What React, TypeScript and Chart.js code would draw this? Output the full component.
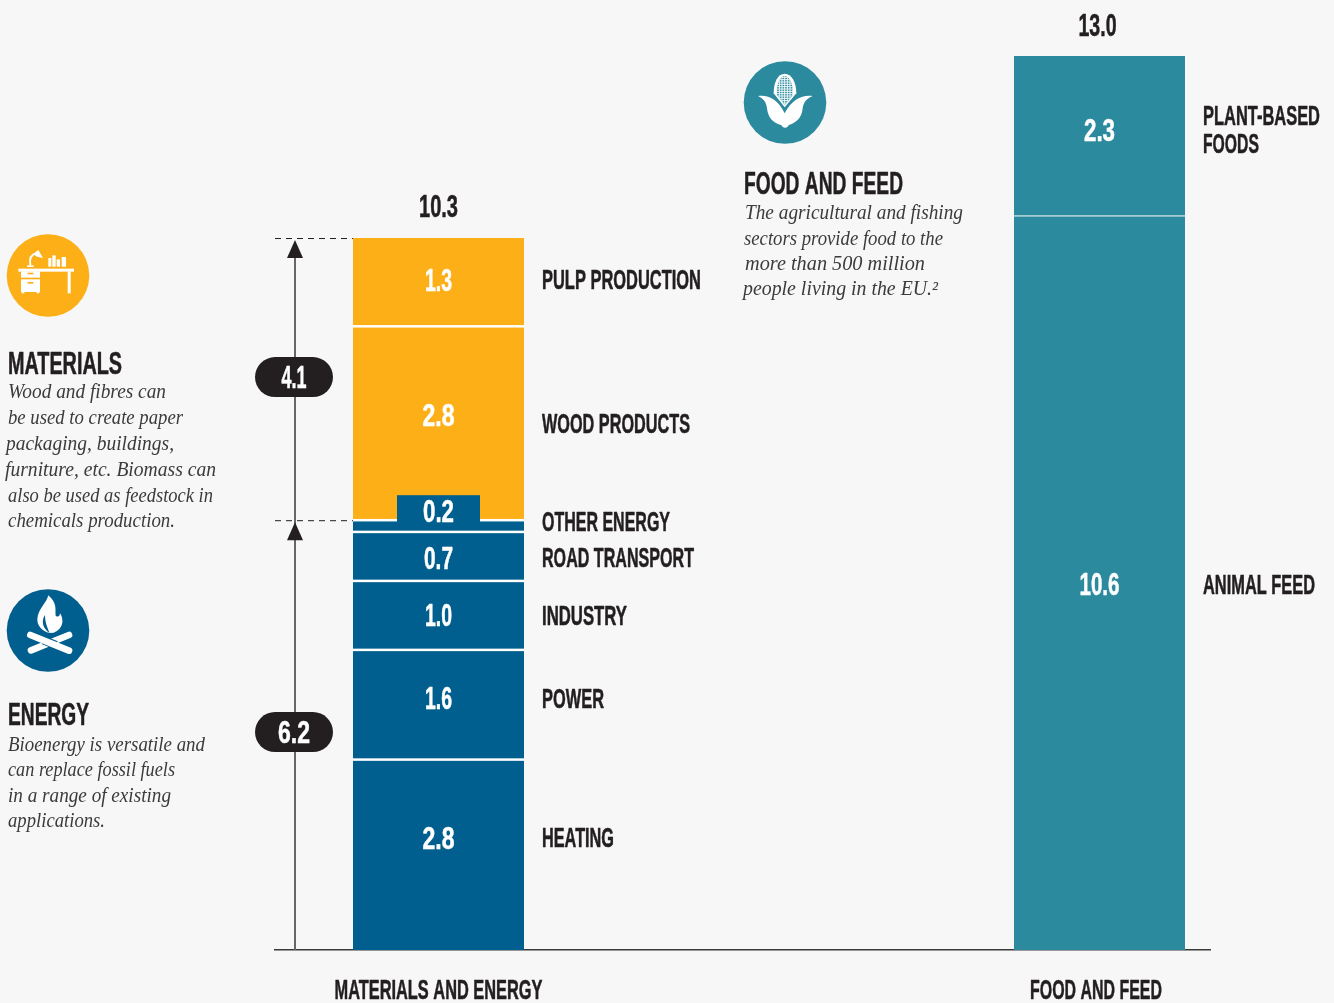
import React, { useEffect, useRef } from "react";
import { Chart, registerables } from "chart.js";

Chart.register(...registerables);

const axisCategories = ["MATERIALS AND ENERGY", "FOOD AND FEED"];
const energyCategories = ["HEATING", "POWER", "INDUSTRY", "ROAD TRANSPORT", "OTHER ENERGY"];
const energyValues = [2.76, 1.59, 1.0, 0.71, 0.17];
const materialCategories = ["WOOD PRODUCTS", "PULP PRODUCTION"];
const materialValues = [2.81, 1.28];
const foodCategories = ["ANIMAL FEED", "PLANT-BASED FOODS"];
const foodValues = [10.64, 2.32];

const materialsNote = [
  "Wood and fibres can",
  "be used to create paper",
  "packaging, buildings,",
  "furniture, etc. Biomass can",
  "also be used as feedstock in",
  "chemicals production.",
];
const energyNote = [
  "Bioenergy is versatile and",
  "can replace fossil fuels",
  "in a range of existing",
  "applications.",
];
const foodNote = [
  "The agricultural and fishing",
  "sectors provide food to the",
  "more than 500 million",
  "people living in the EU.²",
];

const ORANGE = "#fcaf17";
const BLUE = "#005f8e";
const TEAL = "#2c8a9e";
const INK = "#231f20";
const NOTE = "#3c3a3b";
const BG = "#f7f7f7";
const COND = '"Liberation Sans",sans-serif';
const SERIF = '"Liberation Serif",serif';

// Layout tables: [value label dy, value width, category label dy, category width]
const segLayout: Record<string, number[]> = {
  HEATING: [-17, 32, -17, 72],
  POWER: [-7, 27, -6, 62],
  INDUSTRY: [0, 27, 0.5, 85],
  "ROAD TRANSPORT": [1.5, 29, 1.5, 152],
  "OTHER ENERGY": [-15, 31, -4.5, 128],
  "WOOD PRODUCTS": [-8, 32, 0, 148],
  "PULP PRODUCTION": [-2, 27, -3, 159],
  "ANIMAL FEED": [1, 40, 2, 112],
  "PLANT-BASED FOODS": [-6, 31, 0, 0],
};

function fit(
  ctx: CanvasRenderingContext2D,
  text: string,
  x: number,
  y: number,
  width: number,
  font: string,
  color: string,
  align: "left" | "center" = "left",
  heavy = 0
) {
  ctx.save();
  ctx.font = font;
  ctx.fillStyle = color;
  ctx.textAlign = "left";
  ctx.textBaseline = "alphabetic";
  const w = ctx.measureText(text).width;
  const k = width / w;
  ctx.translate(align === "center" ? x - width / 2 : x, y);
  ctx.scale(k, 1);
  ctx.fillText(text, 0, 0);
  if (heavy > 0) {
    ctx.strokeStyle = color;
    ctx.lineWidth = heavy;
    ctx.lineJoin = "round";
    ctx.strokeText(text, 0, 0);
  }
  ctx.restore();
}

function iconDisc(ctx: CanvasRenderingContext2D, cx: number, cy: number, color: string, ox: number, oy: number, draw: () => void) {
  ctx.save();
  ctx.fillStyle = color;
  ctx.beginPath();
  ctx.arc(cx, cy, 41.3, 0, Math.PI * 2);
  ctx.fill();
  ctx.translate(ox, oy);
  ctx.scale(1 / 3, 1 / 3);
  draw();
  ctx.restore();
}

function drawDesk(ctx: CanvasRenderingContext2D) {
  ctx.fillStyle = "#fff";
  ctx.fillRect(40, 110, 167, 9);
  ctx.fillRect(48, 118, 57, 62);
  ctx.fillRect(50, 178, 8, 6);
  ctx.fillRect(95, 178, 8, 6);
  ctx.fillRect(188, 118, 9, 66);
  ctx.fillStyle = ORANGE;
  ctx.fillRect(48, 137, 57, 5);
  ctx.fillRect(68, 122, 17, 5);
  ctx.fillRect(68, 150, 17, 5);
  ctx.fillStyle = "#fff";
  ctx.fillRect(66, 100, 20, 5);
  ctx.strokeStyle = "#fff";
  ctx.lineWidth = 6;
  ctx.beginPath();
  ctx.moveTo(76, 100);
  ctx.quadraticCurveTo(70, 70, 94, 64);
  ctx.stroke();
  ctx.beginPath();
  ctx.moveTo(84, 66);
  ctx.lineTo(100, 54);
  ctx.lineTo(114, 78);
  ctx.lineTo(96, 74);
  ctx.closePath();
  ctx.fill();
  ctx.fillRect(130, 78, 9, 26);
  ctx.fillRect(142, 70, 10, 34);
  ctx.fillRect(155, 82, 10, 22);
  ctx.fillRect(170, 75, 13, 29);
}

function drawFire(ctx: CanvasRenderingContext2D) {
  ctx.fillStyle = "#fff";
  ctx.beginPath();
  ctx.moveTo(130, 25);
  ctx.bezierCurveTo(125, 48, 100, 65, 97, 95);
  ctx.bezierCurveTo(96, 115, 110, 130, 132, 138);
  ctx.lineTo(146, 137);
  ctx.bezierCurveTo(175, 125, 178, 100, 165, 78);
  ctx.bezierCurveTo(165, 88, 158, 92, 152, 86);
  ctx.bezierCurveTo(150, 68, 158, 50, 130, 25);
  ctx.fill();
  ctx.fillStyle = BLUE;
  ctx.beginPath();
  ctx.moveTo(120, 84);
  ctx.bezierCurveTo(106, 105, 116, 126, 134, 139);
  ctx.bezierCurveTo(126, 118, 120, 105, 120, 84);
  ctx.fill();
  ctx.strokeStyle = "#fff";
  ctx.lineCap = "round";
  ctx.lineWidth = 20;
  ctx.beginPath();
  ctx.moveTo(78, 190);
  ctx.lineTo(192, 144);
  ctx.stroke();
  ctx.strokeStyle = BLUE;
  ctx.lineCap = "butt";
  ctx.lineWidth = 26;
  ctx.beginPath();
  ctx.moveTo(115, 159);
  ctx.lineTo(153, 175);
  ctx.stroke();
  ctx.strokeStyle = "#fff";
  ctx.lineCap = "round";
  ctx.lineWidth = 20;
  ctx.beginPath();
  ctx.moveTo(76, 144);
  ctx.lineTo(192, 191);
  ctx.stroke();
}

function drawCorn(ctx: CanvasRenderingContext2D) {
  ctx.fillStyle = "#fff";
  ctx.beginPath();
  ctx.moveTo(128, 41);
  ctx.bezierCurveTo(108, 41, 95, 66, 95, 100);
  ctx.lineTo(128, 142);
  ctx.lineTo(163, 100);
  ctx.bezierCurveTo(163, 66, 148, 41, 128, 41);
  ctx.fill();
  ctx.save();
  ctx.beginPath();
  ctx.moveTo(128, 48);
  ctx.bezierCurveTo(113, 50, 103, 74, 105, 104);
  ctx.lineTo(128, 135);
  ctx.lineTo(153, 104);
  ctx.bezierCurveTo(154, 74, 143, 50, 128, 48);
  ctx.clip();
  ctx.fillStyle = TEAL;
  ctx.fillRect(100, 45, 60, 95);
  ctx.strokeStyle = "#eef8fa";
  ctx.lineWidth = 3;
  for (let y = 52; y < 136; y += 7) {
    ctx.beginPath();
    ctx.moveTo(100, y);
    ctx.lineTo(160, y);
    ctx.stroke();
  }
  for (let x = 112; x < 156; x += 8) {
    ctx.beginPath();
    ctx.moveTo(x, 45);
    ctx.lineTo(x, 140);
    ctx.stroke();
  }
  ctx.restore();
  ctx.beginPath();
  ctx.moveTo(48, 108);
  ctx.bezierCurveTo(75, 103, 108, 115, 128, 160);
  ctx.bezierCurveTo(150, 115, 185, 103, 212, 108);
  ctx.bezierCurveTo(195, 115, 185, 125, 182, 145);
  ctx.bezierCurveTo(180, 175, 160, 190, 140, 195);
  ctx.bezierCurveTo(137, 206, 122, 206, 118, 195);
  ctx.bezierCurveTo(95, 190, 78, 175, 75, 145);
  ctx.bezierCurveTo(73, 125, 63, 115, 48, 108);
  ctx.closePath();
  ctx.strokeStyle = TEAL;
  ctx.lineWidth = 5;
  ctx.stroke();
  ctx.fillStyle = "#fff";
  ctx.fill();
}

function sum(a: number[]) {
  return a.reduce((s, v) => s + v, 0);
}

const overlay = {
  id: "overlay",
  beforeDraw(chart: any) {
    const { ctx, width, height } = chart;
    ctx.save();
    ctx.fillStyle = BG;
    ctx.fillRect(0, 0, width, height);
    ctx.restore();
  },
  afterDraw(chart: any) {
    const ctx: CanvasRenderingContext2D = chart.ctx;
    const y = chart.scales.y;
    const x = chart.scales.x;
    const base = y.getPixelForValue(0);
    const energyTop = y.getPixelForValue(sum(energyValues));
    const materialsTop = y.getPixelForValue(sum(energyValues) + sum(materialValues));
    const foodTop = y.getPixelForValue(sum(foodValues));
    const bx = x.getPixelForValue(0);
    const fx = x.getPixelForValue(1);
    const half = 85.5;
    const names = [...energyCategories, ...materialCategories, ...foodCategories];
    const values = [...energyValues, ...materialValues, ...foodValues];
    const cond27 = `bold 27px ${COND}`;
    const cond31 = `bold 31px ${COND}`;
    const H = 0.55;

    // white rules between stacked segments
    const stackedCount = energyValues.length + materialValues.length;
    ctx.fillStyle = "#fff";
    for (let i = 0; i < stackedCount - 1; i++) {
      const el = chart.getDatasetMeta(i).data[0];
      ctx.fillRect(el.x - half, el.y - 1.25, half * 2, 2.5);
    }
    const feedEl = chart.getDatasetMeta(stackedCount).data[0];
    ctx.fillRect(feedEl.x - half, feedEl.y - 0.5, half * 2, 1);

    // notch behind the 0.2 label
    const otherEl = chart.getDatasetMeta(4).data[0];
    ctx.fillStyle = BLUE;
    ctx.fillRect(bx - 41.5, otherEl.y - 25, 83, 27);

    // value and category labels on the stacks
    names.forEach((name, i) => {
      const el = chart.getDatasetMeta(i).data[0];
      const mid = (el.y + el.base) / 2;
      const [vdy, vw, cdy, cw] = segLayout[name];
      fit(ctx, values[i].toFixed(1), el.x, mid + vdy + 11, vw, cond31, "#fff", "center", H);
      const lx = el.x + half + 18;
      if (name === "PLANT-BASED FOODS") {
        fit(ctx, "PLANT-BASED", lx, mid - 20 + 9.5, 117, cond27, INK, "left", H);
        fit(ctx, "FOODS", lx, mid + 8 + 9.5, 56, cond27, INK, "left", H);
      } else {
        fit(ctx, name, lx, mid + cdy + 9.5, cw, cond27, INK, "left", H);
      }
    });

    // category names under the axis
    fit(ctx, axisCategories[0], bx, 999, 208, cond27, INK, "center", H);
    fit(ctx, axisCategories[1], fx - 3.5, 999, 132, cond27, INK, "center", H);

    // totals
    fit(ctx, (sum(energyValues) + sum(materialValues)).toFixed(1), bx, materialsTop - 21, 39, cond31, INK, "center", H);
    fit(ctx, sum(foodValues).toFixed(1), fx - 2, foodTop - 20, 38, cond31, INK, "center", H);

    // brackets
    const ax = x.left + 20;
    ctx.save();
    ctx.strokeStyle = "#666";
    ctx.lineWidth = 2;
    ctx.beginPath();
    ctx.moveTo(ax, base);
    ctx.lineTo(ax, materialsTop + 6);
    ctx.stroke();
    ctx.strokeStyle = INK;
    ctx.lineWidth = 1;
    ctx.setLineDash([6, 5]);
    for (const t of [materialsTop, energyTop]) {
      ctx.beginPath();
      ctx.moveTo(x.left, t + 0.5);
      ctx.lineTo(bx - half, t + 0.5);
      ctx.stroke();
    }
    ctx.setLineDash([]);
    ctx.fillStyle = INK;
    for (const t of [materialsTop, energyTop]) {
      ctx.beginPath();
      ctx.moveTo(ax, t + 2);
      ctx.lineTo(ax + 8, t + 20);
      ctx.lineTo(ax - 8, t + 20);
      ctx.closePath();
      ctx.fill();
    }
    const pills: [number, number, number][] = [
      [sum(materialValues), (materialsTop + energyTop) / 2 - 2, 25],
      [sum(energyValues), (energyTop + base) / 2 - 3, 32],
    ];
    for (const [v, py, w] of pills) {
      ctx.fillStyle = INK;
      ctx.beginPath();
      ctx.roundRect(ax - 40, py - 20, 78, 40, 20);
      ctx.fill();
      fit(ctx, v.toFixed(1), ax - 1, py + 11, w, cond31, "#fff", "center", H);
    }
    ctx.restore();

    // icons
    iconDisc(ctx, 48, 275.5, ORANGE, 5, 232, () => drawDesk(ctx));
    iconDisc(ctx, 48, 630.5, BLUE, 5, 587, () => drawFire(ctx));
    iconDisc(ctx, 785, 102.5, TEAL, 742, 60, () => drawCorn(ctx));

    // headings
    fit(ctx, "MATERIALS", 8, 374, 114, cond31, INK, "left", H);
    fit(ctx, "ENERGY", 8, 725, 81, cond31, INK, "left", H);
    fit(ctx, "FOOD AND FEED", 744, 194, 159, cond31, INK, "left", H);

    // notes
    const noteFont = `italic 20px ${SERIF}`;
    const mw = [158, 175, 168, 211, 205, 167];
    const mx = [8, 8, 6, 5, 8, 8];
    const my = [398, 424, 450, 476, 502, 527];
    materialsNote.forEach((t, i) => fit(ctx, t, mx[i], my[i], mw[i], noteFont, NOTE));
    const ew = [197, 167, 163, 97];
    const ey = [751, 776, 802, 827];
    energyNote.forEach((t, i) => fit(ctx, t, 8, ey[i], ew[i], noteFont, NOTE));
    const fw = [218, 199, 180, 195];
    const fxs = [745, 744, 745, 743];
    const fy = [219, 245, 270, 295];
    foodNote.forEach((t, i) => fit(ctx, t, fxs[i], fy[i], fw[i], noteFont, NOTE));
  },
};

export default function App() {
  const ref = useRef<HTMLCanvasElement>(null);
  useEffect(() => {
    document.body.style.margin = "0";
    document.body.style.background = BG;
    const group = (values: number[], color: string, xPos: number) =>
      values.map((v) => ({
        data: [{ x: xPos, y: v }],
        backgroundColor: color,
        borderWidth: 0,
        inflateAmount: 0,
        barThickness: 171,
        stack: "all",
      }));
    const chart = new Chart(ref.current!, {
      type: "bar",
      data: {
        datasets: [
          ...group(energyValues, BLUE, 0),
          ...group(materialValues, ORANGE, 0),
          ...group(foodValues, TEAL, 1),
        ] as any,
      },
      options: {
        animation: false,
        responsive: false,
        layout: { padding: { left: 275, right: 124, top: 0, bottom: 0 } },
        plugins: { legend: { display: false }, tooltip: { enabled: false } },
        scales: {
          x: {
            type: "linear",
            stacked: true,
            offset: false,
            min: (275 - 438.5) / 661,
            max: (1210 - 438.5) / 661,
            z: 1,
            grid: { display: false, drawTicks: false, offset: false },
            border: { display: true, color: "#3a3839", width: 1.5 },
            afterFit: (s: any) => {
              s.height = 53;
            },
            ticks: { display: false },
          },
          y: { type: "linear", stacked: true, display: false, min: 0, max: 13.77 },
        },
      } as any,
      plugins: [overlay],
    });
    return () => chart.destroy();
  }, []);
  return <canvas ref={ref} width={1334} height={1003} style={{ display: "block", width: 1334, height: 1003 }} />;
}
